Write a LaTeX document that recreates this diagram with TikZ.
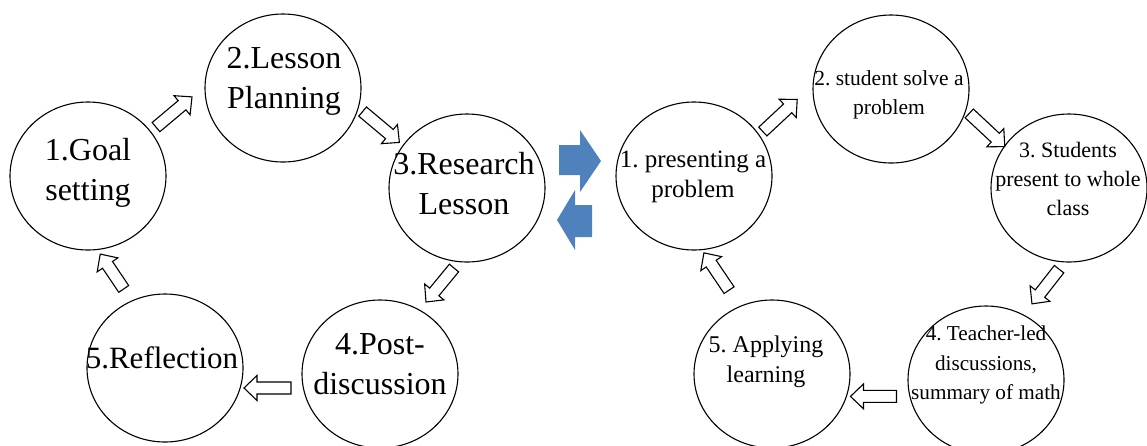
\documentclass[tikz,border=0pt]{standalone}
\usepackage{fontspec}
\setmainfont{Liberation Serif}
\usetikzlibrary{shapes.geometric}
\definecolor{cycleblue}{RGB}{79,129,189}
\frenchspacing
\tikzset{
  pics/hollow/.style={code={
    \draw[line width=1.1pt, fill=white]
      (-#1/2,-6) -- (#1/2-13,-6) -- (#1/2-13,-12.5) -- (#1/2,0)
      -- (#1/2-13,12.5) -- (#1/2-13,6) -- (-#1/2,6) -- cycle;
  }}
}
\begin{document}
\begin{tikzpicture}[x=1pt,y=-1pt,
  ring/.style={draw=black, line width=1.1pt, ellipse, minimum width=156pt,
    minimum height=148pt, inner sep=0pt},
  bigtxt/.style={align=center, inner sep=0pt, font=\fontsize{32}{40}\selectfont},
  midtxt/.style={align=center, inner sep=0pt, font=\fontsize{24}{30}\selectfont},
  smalltxt/.style={align=center, inner sep=0pt, font=\fontsize{21.5}{29}\selectfont}]
\fill[white] (0,0) rectangle (1147,445);
\useasboundingbox (0,0) rectangle (1147,445);

% ---- lesson study cycle ----
\node[ring] (goal) at (88,176) {};
\node[ring] (plan) at (283,88) {};
\node[ring] (research) at (467,188) {};
\node[ring] (post) at (380,374) {};
\node[ring] (reflect) at (165,368) {};

\node[bigtxt] (goalT) at (88,172.5) {1.Goal\\setting};
\node[bigtxt] (planT) at (284,81) {2.Lesson\\Planning};
\node[bigtxt] (researchT) at (464,184) {3.Research\\Lesson};
\node[bigtxt] (postT) at (380,364) {4.Post-\\discussion};
\node[bigtxt, font=\fontsize{31}{40}\selectfont] (reflectT) at (162,358) {5.Reflection};

\pic[rotate=40] at (174,112) {hollow=47};
\pic[rotate=-40] at (381,127) {hollow=48};
\pic[rotate=-129.5] at (440,285) {hollow=44};
\pic[rotate=180] at (267.5,388) {hollow=47};
\pic[rotate=124] at (112,271.5) {hollow=42};

% ---- exchange arrows ----
\fill[cycleblue] (559,145) -- (580,145) -- (580,130) -- (601,161) -- (580,192)
  -- (580,175) -- (559,175) -- cycle;
\fill[cycleblue] (592,205) -- (575,205) -- (575,190) -- (557,220) -- (575,250)
  -- (575,237) -- (592,237) -- cycle;

% ---- problem solving lesson ----
\node[ring] (present) at (694,176) {};
\node[ring] (solve) at (891,89) {};
\node[ring] (share) at (1069,188) {};
\node[ring] (discuss) at (986,380) {};
\node[ring] (apply) at (772,374) {};

\node[midtxt, font=\fontsize{25}{30}\selectfont] (presentT) at (693,177) {1. presenting a\\problem};
\node[smalltxt] (solveT) at (889,95) {2. student solve a\\problem};
\node[smalltxt, font=\fontsize{22}{29}\selectfont] (shareT) at (1068,179) {3. Students\\present to whole\\class};
\node[smalltxt, font=\fontsize{21.2}{29.6}\selectfont] (discussT) at (986,365) {4. Teacher-led\\discussions,\\summary of math};
\node[midtxt] (applyT) at (766,362) {5. Applying\\learning};

\pic[rotate=43] at (780,115.5) {hollow=47};
\pic[rotate=-43] at (987,130) {hollow=48.6};
\pic[rotate=-128] at (1045.5,286.5) {hollow=44};
\pic[rotate=180] at (873.5,396.4) {hollow=46};
\pic[rotate=124] at (716.5,271.5) {hollow=45};
\end{tikzpicture}
\end{document}
